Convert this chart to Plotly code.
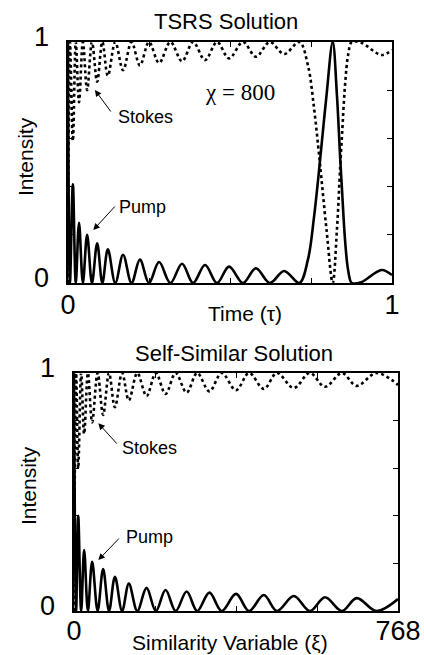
import plotly.graph_objects as go

# ---------------- data ----------------
# Top panel: TSRS solution (time tau from 0 to 1)
tsrs_tau = [0.000, 0.006, 0.015, 0.024, 0.034, 0.046, 0.059, 0.074, 0.090, 0.106,
            0.123, 0.146, 0.170, 0.196, 0.222, 0.250, 0.281, 0.316, 0.352, 0.386,
            0.423, 0.460, 0.497, 0.540, 0.580, 0.623, 0.667, 0.714, 0.741, 0.759,
            0.772, 0.781, 0.798, 0.817, 0.830, 0.840, 0.846, 0.855, 0.865, 0.876,
            0.905, 0.968, 1.000]
tsrs_pump = [1.00, 0.00, 0.41, 0.00, 0.25, 0.00, 0.20, 0.00, 0.165, 0.00,
             0.14, 0.00, 0.117, 0.00, 0.097, 0.00, 0.087, 0.00, 0.080, 0.00,
             0.075, 0.00, 0.068, 0.00, 0.061, 0.00, 0.050, 0.00, 0.10, 0.27,
             0.43, 0.55, 0.78, 1.00, 0.78, 0.52, 0.38, 0.18, 0.05, 0.00,
             0.003, 0.054, 0.033]
tsrs_stokes = [0.00, 1.00, 0.59, 1.00, 0.75, 1.00, 0.80, 1.00, 0.835, 1.00,
               0.86, 1.00, 0.883, 1.00, 0.903, 1.00, 0.913, 1.00, 0.920, 1.00,
               0.925, 1.00, 0.932, 1.00, 0.939, 1.00, 0.950, 1.00, 0.90, 0.73,
               0.57, 0.45, 0.22, 0.00, 0.22, 0.48, 0.62, 0.82, 0.95, 1.00,
               0.997, 0.946, 0.967]

# Bottom panel: self-similar solution (similarity variable xi from 0 to 768)
ss_xi = [0, 5, 10, 17, 24, 33, 43, 56, 69, 83,
         97, 114, 130, 150, 172, 194, 217, 241, 267, 292,
         321, 350, 384, 415, 450, 481, 521, 559, 595, 635,
         670, 717, 768]
ss_pump = [1.00, 0.00, 0.40, 0.00, 0.256, 0.00, 0.207, 0.00, 0.176, 0.00,
           0.144, 0.00, 0.115, 0.00, 0.097, 0.00, 0.088, 0.00, 0.082, 0.00,
           0.077, 0.00, 0.072, 0.00, 0.067, 0.00, 0.063, 0.00, 0.058, 0.00,
           0.054, 0.00, 0.050]
ss_stokes = [0.00, 1.00, 0.60, 1.00, 0.744, 1.00, 0.793, 1.00, 0.824, 1.00,
             0.856, 1.00, 0.885, 1.00, 0.903, 1.00, 0.912, 1.00, 0.918, 1.00,
             0.923, 1.00, 0.928, 1.00, 0.933, 1.00, 0.937, 1.00, 0.942, 1.00,
             0.946, 1.00, 0.950]

top_ticks_x = [0, 0.25, 0.5, 0.75, 1]
top_ticktext_x = ["0", "", "", "", "1"]
bot_ticks_x = [0, 192, 384, 576, 768]
bot_ticktext_x = ["0", "", "", "", "768"]
ticks_y = [0, 0.2, 0.4, 0.6, 0.8, 1]
ticktext_y = ["0", "", "", "", "", "1"]

# ---------------- figure ----------------
W, H = 424, 655
SANS = "Liberation Sans, Arial, Helvetica, sans-serif"
SERIF = "Liberation Serif, Times New Roman, serif"

def px_x(p):
    return p / W

def px_y(p):
    return 1 - p / H

fig = go.Figure()

pump_line = dict(color="black", width=2.6, shape="spline", smoothing=1)
stokes_line = dict(color="black", width=2.6, dash="3px,3px", shape="spline", smoothing=1)

fig.add_trace(go.Scatter(x=tsrs_tau, y=tsrs_stokes, mode="lines", line=stokes_line,
                         xaxis="x", yaxis="y", showlegend=False, name="Stokes"))
fig.add_trace(go.Scatter(x=tsrs_tau, y=tsrs_pump, mode="lines", line=pump_line,
                         xaxis="x", yaxis="y", showlegend=False, name="Pump"))
fig.add_trace(go.Scatter(x=ss_xi, y=ss_stokes, mode="lines", line=stokes_line,
                         xaxis="x2", yaxis="y2", showlegend=False, name="Stokes"))
fig.add_trace(go.Scatter(x=ss_xi, y=ss_pump, mode="lines", line=pump_line,
                         xaxis="x2", yaxis="y2", showlegend=False, name="Pump"))

tick_font = dict(family=SANS, size=27, color="black")

def xaxis_common(rng, tv, tt, domain, anchor, standoff):
    return dict(range=rng, domain=domain, anchor=anchor, tickmode="array",
                tickvals=tv, ticktext=tt, ticks="inside", ticklen=5, tickwidth=1,
                tickcolor="black", showline=True, linecolor="black", linewidth=1.6,
                mirror="ticks", showgrid=False, zeroline=False, tickfont=tick_font,
                ticklabelstandoff=standoff, automargin=False)

def yaxis_common(domain, anchor):
    return dict(range=[0, 1], domain=domain, anchor=anchor, tickmode="array",
                tickvals=ticks_y, ticktext=ticktext_y, ticks="inside", ticklen=5,
                tickwidth=1, tickcolor="black", showline=True, linecolor="black",
                linewidth=1.6, mirror="ticks", showgrid=False, zeroline=False,
                tickfont=tick_font, ticklabelstandoff=12, ticklabelshift=-5,
                automargin=False)

fig.update_layout(
    width=W, height=H, autosize=False,
    margin=dict(l=0, r=0, t=0, b=0),
    paper_bgcolor="white", plot_bgcolor="white",
    xaxis=xaxis_common([0, 1], top_ticks_x, top_ticktext_x,
                       [px_x(68), px_x(392)], "y", -3),
    yaxis=yaxis_common([px_y(283), px_y(42)], "x"),
    xaxis2=xaxis_common([0, 768], bot_ticks_x, bot_ticktext_x,
                        [px_x(74), px_x(398)], "y2", -5),
    yaxis2=yaxis_common([px_y(611), px_y(373)], "x2"),
)

ann = []

def text_paper(txt, x, y, size, family=SANS, angle=0):
    ann.append(dict(text=txt, x=px_x(x), y=px_y(y), xref="paper", yref="paper",
                    showarrow=False, xanchor="center", yanchor="middle",
                    textangle=angle, font=dict(family=family, size=size, color="black")))

# titles and axis titles
text_paper("TSRS Solution", 226, 21, 22)
text_paper("Time (τ)", 245, 313, 21)
text_paper("Intensity", 26, 157, 21, angle=-90)
text_paper("Self-Similar Solution", 234, 354, 22)
text_paper("Similarity Variable (ξ)", 230, 642, 21)
text_paper("Intensity", 28, 486, 21, angle=-90)
text_paper("χ = 800", 240, 92, 23, family=SERIF)

# labels inside panels
def label(txt, x, y, xr, yr):
    ann.append(dict(text=txt, x=x, y=y, xref=xr, yref=yr, showarrow=False,
                    xanchor="center", yanchor="middle",
                    font=dict(family=SANS, size=18, color="black")))

def arrow(x, y, ax, ay, xr, yr):
    ann.append(dict(text="", x=x, y=y, xref=xr, yref=yr, ax=ax, ay=ay,
                    showarrow=True, arrowhead=2, arrowsize=1.3, arrowwidth=1,
                    arrowcolor="black", standoff=0, startstandoff=0))

label("Stokes", 0.238, 0.689, "x", "y")
arrow(0.083, 0.801, 17, 23, "x", "y")
label("Pump", 0.231, 0.315, "x", "y")
arrow(0.078, 0.220, 23, -25, "x", "y")

label("Stokes", 180, 0.685, "x2", "y2")
arrow(57.6, 0.789, 20, 22, "x2", "y2")
label("Pump", 178, 0.311, "x2", "y2")
arrow(57.6, 0.214, 22, -23, "x2", "y2")

fig.update_layout(annotations=ann)

fig.write_html("out.html",
               config={"displayModeBar": False, "staticPlot": True},
               post_script="document.body.style.margin='0px';"
                           "document.body.style.overflow='hidden';")
